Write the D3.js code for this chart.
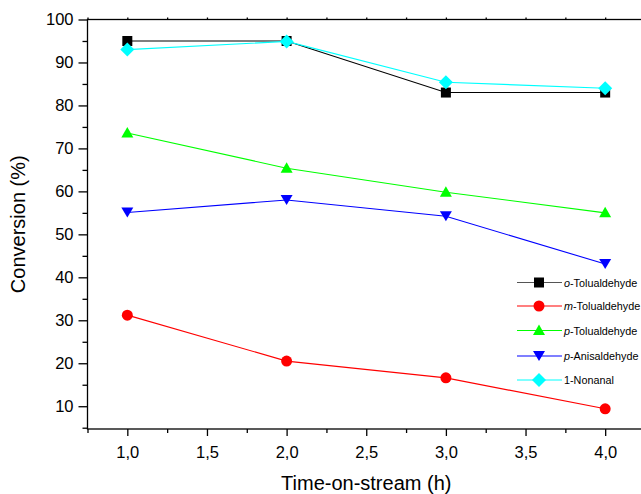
<!DOCTYPE html>
<html>
<head>
  <meta charset="utf-8">
  <script src="https://d3js.org/d3.v7.min.js"></script>
  <style>
    body { margin: 0; background: #fff; }
    svg { display: block; font-family: "Liberation Sans", Arial, sans-serif; }
  </style>
</head>
<body>
<script>
  // time on stream (h)
  var hours = [1.0, 2.0, 3.0, 4.0];

  // conversion (%) per aldehyde
  var oTol   = [95.0, 95.0, 83.0, 83.0];
  var mTol   = [31.2, 20.5, 16.6, 9.4];
  var pTol   = [73.6, 65.4, 59.8, 55.0];
  var pAnis  = [55.1, 58.0, 54.2, 43.1];
  var nonan  = [93.0, 94.9, 85.4, 84.0];

  var xTicks = [1.0, 1.5, 2.0, 2.5, 3.0, 3.5, 4.0];
  var yTicks = [10, 20, 30, 40, 50, 60, 70, 80, 90, 100];

  var series = [
    { pre: "o", name: "-Tolualdehyde", values: oTol,  color: "#000000", sym: d3.symbolSquare,   size: 100 },
    { pre: "m", name: "-Tolualdehyde", values: mTol,  color: "#ff0000", sym: d3.symbolCircle,   size: 95 },
    { pre: "p", name: "-Tolualdehyde", values: pTol,  color: "#00ff00", sym: d3.symbolTriangle, size: 75 },
    { pre: "p", name: "-Anisaldehyde", values: pAnis, color: "#0000ff", sym: "down",            size: 75 },
    { pre: "",  name: "1-Nonanal",     values: nonan, color: "#00ffff", sym: "diamond",         size: 0 }
  ];

  var W = 641, H = 494;
  var pLeft = 87.5, pTop = 19.5, pBottom = 429, pRight = 645;

  var svg = d3.select("body").append("svg")
      .attr("width", W).attr("height", H);

  var x = d3.scaleLinear().domain([0.75, 4.25]).range([pLeft, pRight]);
  var y = d3.scaleLinear().domain([4.7, 100]).range([pBottom, pTop]);

  // frame
  svg.append("rect")
      .attr("x", pLeft).attr("y", pTop)
      .attr("width", pRight - pLeft).attr("height", pBottom - pTop)
      .attr("fill", "none").attr("stroke", "#000").attr("stroke-width", 1.3);

  // minor ticks
  var xMinor = d3.range(0.75, 4.26, 0.25).filter(function (v) { return Math.abs(v * 2 - Math.round(v * 2)) > 0.01; });
  var yMinor = d3.range(5, 100, 10);

  svg.append("g").attr("transform", "translate(0," + pBottom + ")")
      .call(d3.axisBottom(x).tickValues(xTicks).tickSize(7).tickPadding(10)
        .tickFormat(function (d) { return d3.format(".1f")(d).replace(".", ","); }));
  svg.append("g").attr("transform", "translate(0," + pBottom + ")")
      .call(d3.axisBottom(x).tickValues(xMinor).tickSize(4).tickFormat(""));
  svg.append("g").attr("transform", "translate(0," + pTop + ")")
      .call(d3.axisTop(x).tickValues(xTicks.concat(xMinor)).tickSize(2).tickFormat(""));

  svg.append("g").attr("transform", "translate(" + pLeft + ",0)")
      .call(d3.axisLeft(y).tickValues(yTicks).tickSize(9).tickPadding(5));
  svg.append("g").attr("transform", "translate(" + pLeft + ",0)")
      .call(d3.axisLeft(y).tickValues(yMinor).tickSize(5).tickFormat(""));

  svg.selectAll(".domain").remove();
  svg.selectAll(".tick line").attr("stroke", "#000").attr("stroke-width", 1.3);
  svg.selectAll(".tick text").attr("fill", "#000")
      .style("font-size", "16.5px").style("font-family", "'Liberation Sans', Arial, sans-serif");

  // axis titles
  svg.append("text")
      .attr("x", (pLeft + pRight) / 2).attr("y", 490)
      .attr("text-anchor", "middle")
      .style("font-size", "20px")
      .text("Time-on-stream (h)");
  svg.append("text")
      .attr("transform", "translate(25," + ((pTop + pBottom) / 2) + ") rotate(-90)")
      .attr("text-anchor", "middle")
      .style("font-size", "20px")
      .text("Conversion (%)");

  function markerPath(s) {
    if (s.sym === "down") return "M-6,-5L6,-5L0,5Z";
    if (s.sym === "diamond") return "M0,-7L7,0L0,7L-7,0Z";
    if (s.sym === d3.symbolTriangle) return "M0,-6L6,4.5L-6,4.5Z";
    return d3.symbol().type(s.sym).size(s.size)();
  }

  var line = d3.line()
      .x(function (d, i) { return x(hours[i]); })
      .y(function (d) { return y(d); });

  series.forEach(function (s) {
    var g = svg.append("g");
    g.append("path")
        .attr("d", line(s.values))
        .attr("fill", "none").attr("stroke", s.color).attr("stroke-width", 1.1);
    g.selectAll("path.m").data(s.values).enter().append("path")
        .attr("class", "m")
        .attr("d", markerPath(s))
        .attr("transform", function (d, i) { return "translate(" + x(hours[i]) + "," + y(d) + ")"; })
        .attr("fill", s.color);
  });

  // legend
  var legY = [282.5, 306, 330.5, 356, 380];
  series.forEach(function (s, i) {
    var g = svg.append("g").attr("transform", "translate(517," + legY[i] + ")");
    g.append("line").attr("x1", 0).attr("x2", 45).attr("y1", 0).attr("y2", 0)
        .attr("stroke", i === 0 ? "#555" : s.color).attr("stroke-width", 1.1);
    g.append("path").attr("d", markerPath(s)).attr("transform", "translate(22,0)")
        .attr("fill", s.color);
    var t = g.append("text").attr("x", 47).attr("y", 4).style("font-size", "10.8px");
    if (s.pre) {
      t.append("tspan").style("font-style", "italic").text(s.pre);
    }
    t.append("tspan").text(s.name);
  });
</script>
</body>
</html>
